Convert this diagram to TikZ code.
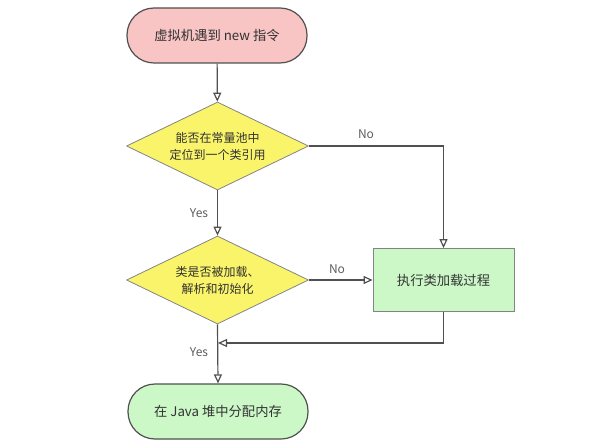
\documentclass[tikz,border=0pt]{standalone}
\usepackage{fontspec}
\setmainfont{Noto Sans CJK SC}
\usetikzlibrary{shapes.geometric,arrows.meta}
\definecolor{pinkfill}{HTML}{F8C4C4}
\definecolor{yellowfill}{HTML}{FAF46A}
\definecolor{greenfill}{HTML}{CCF8C8}
\definecolor{linec}{HTML}{505050}
\definecolor{txt}{HTML}{333333}
\begin{document}
\begin{tikzpicture}[x=1pt,y=-1pt,
  font=\fontsize{13.3}{17}\selectfont, text=txt,
  term/.style={draw=linec, line width=1.2pt, rounded corners=27pt, minimum width=180pt, minimum height=55pt, inner sep=0pt, align=center},
  decide/.style={draw=linec!70, line width=0.8pt, diamond, fill=yellowfill, shape aspect=2.07, minimum width=182pt, minimum height=88pt, inner sep=0pt, align=center, font=\fontsize{12}{17}\selectfont},
  proc/.style={draw=linec!70, line width=0.8pt, fill=greenfill, minimum width=141pt, minimum height=63pt, inner sep=0pt},
  conn/.style={draw=linec, line width=1.2pt, -{Triangle[open, length=9pt, width=8pt]}},
  lbl/.style={font=\fontsize{12}{14}\selectfont, text=txt!80}
]
\useasboundingbox (0,0) rectangle (596,446);
\node[term, fill=pinkfill] (start) at (217,35.5) {虚拟机遇到 new 指令};
\node[decide] (d1) at (217.5,146) {能否在常量池中\\定位到一个类引用};
\node[decide] (d2) at (217.5,280) {类是否被加载、\\解析和初始化};
\node[proc] (load) at (443.5,280) {执行类加载过程};
\node[term, fill=greenfill] (end) at (218,411.5) {在 Java 堆中分配内存};
\coordinate (join) at (218,343);

\draw[conn] (start) -- (d1);
\draw[conn] (d1.east) -| (load.north);
\draw[conn] (d1.south) -- (d2.north);
\draw[conn] (d2.east) -- (load.west);
\draw[conn] (load.south) |- (join);
\draw[conn] (d2.south) -- (end.north);

\node[lbl] (no1) at (366,134) {No};
\node[lbl] (yes1) at (199,213) {Yes};
\node[lbl] (no2) at (337,269) {No};
\node[lbl] (yes2) at (199,352) {Yes};
\end{tikzpicture}
\end{document}
